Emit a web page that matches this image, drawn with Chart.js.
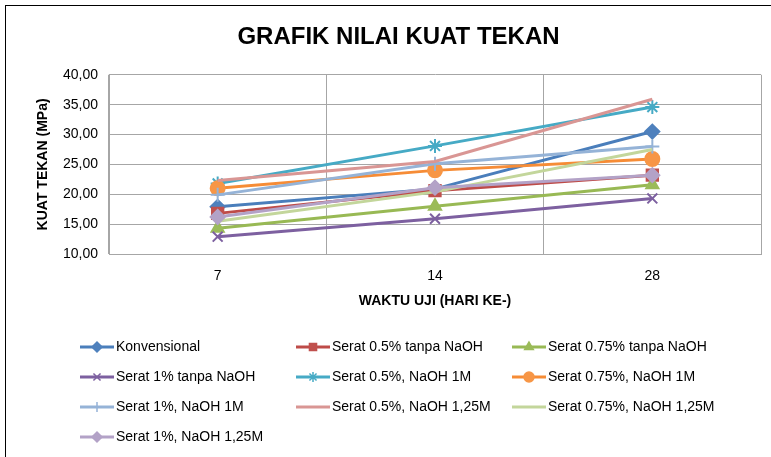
<!DOCTYPE html>
<html>
<head>
  <meta charset="utf-8">
  <script src="https://cdn.jsdelivr.net/npm/chart.js@4.4.0/dist/chart.umd.min.js"></script>
  <style>
    html, body { margin: 0; padding: 0; background: #fff; }
    #wrap { position: relative; width: 771px; height: 457px; overflow: hidden; }
    #frame { position: absolute; left: 5px; top: 5px; width: 800px; height: 500px; border: 1px solid #000; box-sizing: border-box; }
    canvas { position: absolute; left: 0; top: 0; }
  </style>
</head>
<body>
<div id="wrap">
  <div id="frame"></div>
  <canvas id="kuatTekan" width="771" height="457"></canvas>
</div>
<script>
  // hari uji
  const hari = ['7', '14', '28'];

  // kuat tekan (MPa) per variasi
  const konvensional    = [17.9, 20.9, 30.5];
  const serat05Tanpa    = [16.8, 20.6, 23.2];
  const serat075Tanpa   = [14.3, 18.0, 21.6];
  const serat1Tanpa     = [12.9, 15.9, 19.3];
  const serat05NaOH1    = [21.8, 28.1, 34.6];
  const serat075NaOH1   = [21.0, 24.0, 25.9];
  const serat1NaOH1     = [19.9, 25.1, 28.0];
  const serat05NaOH125  = [22.3, 25.5, 35.9];
  const serat075NaOH125 = [15.5, 20.4, 27.5];
  const serat1NaOH125   = [16.2, 21.1, 23.2];

  const yMin = 10, yMax = 40, yStep = 5;

  const FONT = "'Liberation Sans', Arial, sans-serif";

  const series = [
    { label: 'Konvensional',            data: konvensional,    line: '#4A7EBB', fill: '#4F81BD', style: 'rectRot',  r: 7 },
    { label: 'Serat 0.5% tanpa NaOH',   data: serat05Tanpa,    line: '#BE4B48', fill: '#C0504D', style: 'rect',     r: 8 },
    { label: 'Serat 0.75% tanpa NaOH',  data: serat075Tanpa,   line: '#98B954', fill: '#9BBB59', style: 'triangle', r: 7 },
    { label: 'Serat 1% tanpa NaOH',     data: serat1Tanpa,     line: '#7D60A0', fill: '#8064A2', style: 'crossRot', r: 7 },
    { label: 'Serat 0.5%, NaOH 1M',     data: serat05NaOH1,    line: '#46AAC5', fill: '#4BACC6', style: 'star',     r: 7 },
    { label: 'Serat 0.75%, NaOH 1M',    data: serat075NaOH1,   line: '#F68C36', fill: '#F79646', style: 'circle',   r: 7 },
    { label: 'Serat 1%, NaOH 1M',       data: serat1NaOH1,     line: '#95B3D7', fill: '#95B3D7', style: 'cross',    r: 7 },
    { label: 'Serat 0.5%, NaOH 1,25M',  data: serat05NaOH125,  line: '#D99694', fill: '#D99694', style: false,      r: 0 },
    { label: 'Serat 0.75%, NaOH 1,25M', data: serat075NaOH125, line: '#C3D69B', fill: '#C3D69B', style: false,      r: 0 },
    { label: 'Serat 1%, NaOH 1,25M',    data: serat1NaOH125,   line: '#B3A2C7', fill: '#B3A2C7', style: 'rectRot',  r: 7 }
  ];

  const datasets = series.map((s, i) => ({
    label: s.label,
    data: s.data,
    borderColor: s.line,
    backgroundColor: s.fill,
    pointBorderColor: (s.style === 'crossRot' || s.style === 'star' || s.style === 'cross') ? s.line : s.fill,
    pointBackgroundColor: s.fill,
    pointStyle: s.style || 'circle',
    pointRadius: s.r,
    pointBorderWidth: 2,
    borderWidth: 3,
    tension: 0,
    order: series.length - i
  }));

  // legend grid in three columns like the excel one
  const legendGrid = {
    id: 'legendGrid',
    afterDraw(chart) {
      const ctx = chart.ctx;
      const cols = [80, 296, 512];
      const rows = [347, 377, 407, 437];
      ctx.save();
      series.forEach((s, i) => {
        const x = cols[i % 3];
        const y = rows[Math.floor(i / 3)];
        ctx.strokeStyle = s.line;
        ctx.lineWidth = 3;
        ctx.beginPath();
        ctx.moveTo(x, y);
        ctx.lineTo(x + 34, y);
        ctx.stroke();
        if (s.style) {
          ctx.fillStyle = s.fill;
          ctx.strokeStyle = (s.style === 'crossRot' || s.style === 'star' || s.style === 'cross') ? s.line : s.fill;
          ctx.lineWidth = 1.5;
          Chart.helpers.drawPoint(ctx, { pointStyle: s.style, radius: 5, rotation: 0, borderWidth: 1.5 }, x + 17, y);
        }
        ctx.fillStyle = '#000';
        ctx.font = '14px ' + FONT;
        ctx.textBaseline = 'middle';
        ctx.textAlign = 'left';
        ctx.fillText(s.label, x + 36, y);
      });
      ctx.restore();
    }
  };

  new Chart(document.getElementById('kuatTekan').getContext('2d'), {
    type: 'line',
    data: { labels: hari, datasets: datasets },
    plugins: [legendGrid],
    options: {
      responsive: false,
      animation: false,
      layout: { padding: { top: 10, left: 31, right: 5, bottom: 143 } },
      plugins: {
        legend: { display: false },
        tooltip: { enabled: false },
        title: {
          display: true,
          text: 'GRAFIK NILAI KUAT TEKAN',
          color: '#000',
          font: { family: FONT, size: 24, weight: 'bold', lineHeight: 1.2 },
          padding: { top: 13, bottom: 23 }
        }
      },
      scales: {
        x: {
          offset: true,
          grid: { offset: true, color: '#A6A6A6', lineWidth: 1, drawTicks: false },
          border: { color: '#A6A6A6' },
          ticks: { color: '#000', padding: 14, font: { family: FONT, size: 14 } },
          title: {
            display: true,
            text: 'WAKTU UJI (HARI KE-)',
            color: '#000',
            font: { family: FONT, size: 14, weight: 'bold' },
            padding: { top: 4, bottom: 4 }
          },
          afterFit(scale) { scale.height = 60; }
        },
        y: {
          min: yMin,
          max: yMax,
          grid: { color: '#A6A6A6', lineWidth: 1, drawTicks: false },
          border: { color: '#A6A6A6' },
          ticks: {
            stepSize: yStep,
            color: '#000',
            padding: 11,
            font: { family: FONT, size: 14 },
            callback: v => v.toFixed(2).replace('.', ',')
          },
          title: {
            display: true,
            text: 'KUAT TEKAN (MPa)',
            color: '#000',
            font: { family: FONT, size: 14, weight: 'bold' },
            padding: { top: 4, bottom: 4 }
          },
          afterFit(scale) { scale.width = 78; }
        }
      }
    }
  });
</script>
</body>
</html>
